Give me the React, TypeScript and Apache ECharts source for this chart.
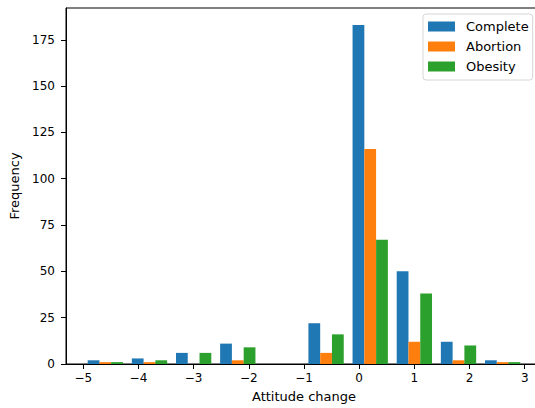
import React, { useEffect, useRef } from "react";
import * as echarts from "echarts";

const binEdges = [-5, -4.2, -3.4, -2.6, -1.8, -1.0, -0.2, 0.6, 1.4, 2.2, 3.0];
const seriesNames = ["Complete", "Abortion", "Obesity"];
const completeCounts = [2, 3, 6, 11, 0, 22, 183, 50, 12, 2];
const abortionCounts = [1, 1, 0, 2, 0, 6, 116, 12, 2, 1];
const obesityCounts = [1, 2, 6, 9, 0, 16, 67, 38, 10, 1];
const colors = ["#1f77b4", "#ff7f0e", "#2ca02c"];
const yTicks = [0, 25, 50, 75, 100, 125, 150, 175];
const xTicks = [-5, -4, -3, -2, -1, 0, 1, 2, 3];

const FONT = "DejaVu Sans";

function buildBars(counts: number[], k: number, n: number) {
  const out: number[][] = [];
  for (let i = 0; i < counts.length; i++) {
    const x0 = binEdges[i];
    const x1 = binEdges[i + 1];
    const tot = x1 - x0;
    const dr = 0.8;
    const w = (dr * tot) / n;
    const start = x0 + 0.5 * tot - 0.5 * dr * tot + k * w;
    out.push([start, start + w, counts[i]]);
  }
  return out;
}

export default function App() {
  const ref = useRef<HTMLDivElement>(null);
  useEffect(() => {
    if (!ref.current) return;
    const chart = echarts.init(ref.current, null, { renderer: "svg" });
    const all = [completeCounts, abortionCounts, obesityCounts];
    const series = all.map((counts, k) => ({
      type: "custom",
      name: seriesNames[k],
      itemStyle: { color: colors[k] },
      encode: { x: [0, 1], y: 2 },
      data: buildBars(counts, k, all.length),
      renderItem: (params: any, api: any) => {
        const a = api.coord([api.value(0), 0]);
        const b = api.coord([api.value(1), api.value(2)]);
        return {
          type: "rect",
          shape: { x: a[0], y: b[1], width: b[0] - a[0], height: a[1] - b[1] },
          style: { fill: colors[k] },
        };
      },
    }));
    const maxVal = Math.max(...completeCounts, ...abortionCounts, ...obesityCounts);
    chart.setOption({
      animation: false,
      grid: {
        left: 66,
        top: 8,
        width: 476,
        height: 356,
        containLabel: false,
        outerBoundsMode: "none",
        show: true,
        borderColor: "#000",
        borderWidth: 1,
        backgroundColor: "transparent",
      },
      legend: {
        orient: "vertical",
        left: 423,
        top: 14,
        data: seriesNames.map((n, i) => ({ name: n, itemStyle: { color: colors[i] } })),
        icon: "rect",
        itemWidth: 27,
        itemHeight: 10,
        itemGap: 7,
        padding: [6, 4, 7, 5],
        backgroundColor: "#ffffff",
        borderColor: "#d6d6d6",
        borderWidth: 1,
        borderRadius: 3,
        textStyle: { fontFamily: FONT, fontSize: 13, color: "#000", lineHeight: 10, padding: [0, 0, 0, 6] },
      },
      xAxis: {
        type: "value",
        min: -5.313,
        max: 3.313,
        name: "Attitude change",
        nameLocation: "middle",
        nameGap: 26,
        nameTextStyle: { fontFamily: FONT, fontSize: 13, color: "#000" },
        splitLine: { show: false },
        axisLine: { onZero: false, lineStyle: { color: "#000", width: 1 } },
        axisTick: {
          show: true,
          length: 5,
          lineStyle: { color: "#000" },
          customValues: xTicks,
        },
        axisLabel: {
          fontFamily: FONT,
          fontSize: 12,
          color: "#000",
          margin: 8,
          customValues: xTicks,
          formatter: (v: number) => (v < 0 ? "\u2212" + Math.abs(v) : String(v)),
        },
      },
      yAxis: {
        type: "value",
        min: 0,
        max: maxVal * 1.05,
        name: "Frequency",
        nameLocation: "middle",
        nameGap: 42,
        nameTextStyle: { fontFamily: FONT, fontSize: 13, color: "#000" },
        splitLine: { show: false },
        axisLine: { show: true, onZero: false, lineStyle: { color: "#000", width: 1 } },
        axisTick: { show: true, length: 5, lineStyle: { color: "#000" }, customValues: yTicks },
        axisLabel: {
          fontFamily: FONT,
          fontSize: 12,
          color: "#000",
          margin: 11,
          customValues: yTicks,
        },
      },
      series,
    });
    return () => chart.dispose();
  }, []);
  return <div ref={ref} style={{ width: 535, height: 408, position: "absolute", left: 0, top: 0 }} />;
}
